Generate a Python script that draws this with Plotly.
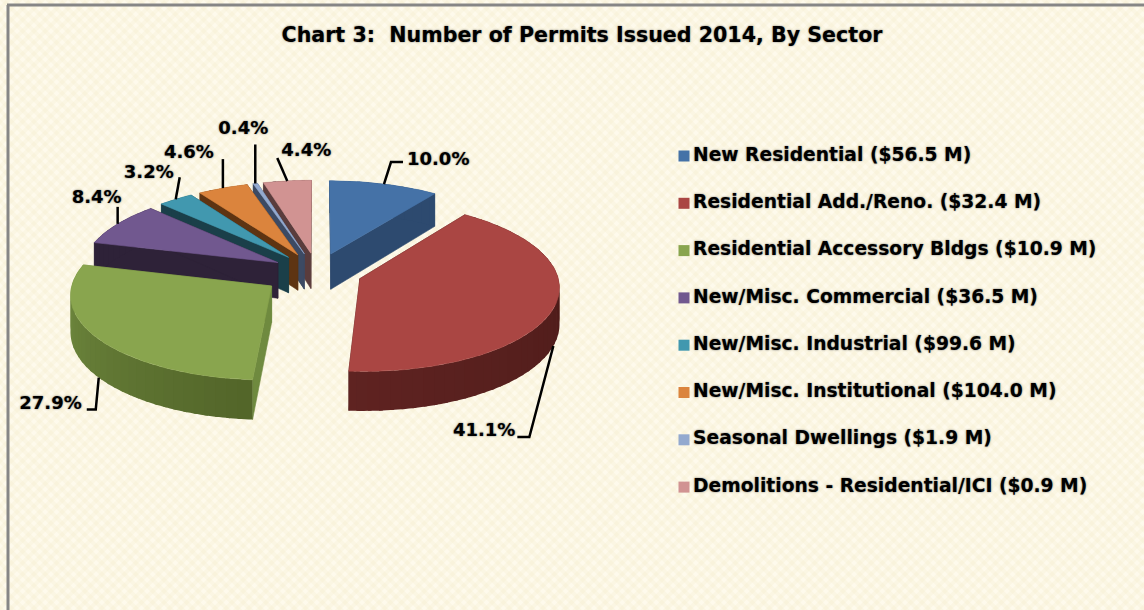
import math
import urllib.parse
import plotly.graph_objects as go

TITLE = "Chart 3:\u00a0\u00a0Number of Permits Issued 2014, By Sector"
CATEGORIES = [
    "New Residential ($56.5 M)",
    "Residential Add./Reno. ($32.4 M)",
    "Residential Accessory Bldgs ($10.9 M)",
    "New/Misc. Commercial ($36.5 M)",
    "New/Misc. Industrial ($99.6 M)",
    "New/Misc. Institutional ($104.0 M)",
    "Seasonal Dwellings ($1.9 M)",
    "Demolitions - Residential/ICI ($0.9 M)",
]
SHARES = [10.0, 41.1, 27.9, 8.4, 3.2, 4.6, 0.4, 4.4]

TOP_COLORS = ["#4572A7", "#AA4643", "#89A54E", "#71588F", "#4198AF", "#DB843D", "#93A9CF", "#D19392"]
CUT_COLORS = ["#2D4A6F", "#4A1A18", "#6F8A3F", "#2E2238", "#1A3F49", "#5E3412", "#3C4A63", "#5A3C3C"]
RIM_FROM = ["#2D4A6F", "#451816", "#536529", "#2E2238", "#1A3F49", "#5E3412", "#3C4A63", "#5A3C3C"]
RIM_TO = ["#2D4A6F", "#5F2321", "#738F42", "#2E2238", "#1A3F49", "#5E3412", "#3C4A63", "#5A3C3C"]
PULLS = [0.23, 0.23, 0.28, 0.23, 0.23, 0.23, 0.23, 0.23]

# projection of the tilted, exploded pie onto the page
CX, CY, RX, RY, PERSP, DEPTH = 317, 272, 197, 84, 0.09, 36

# label offsets: (knee dx, knee dy, end dx, end dy, text dx, text dy) from the rim anchor
LEADERS = [
    (7, -22, 19, -22, 23, -24),
    (-24, 91, -36, 91, -38, 85),
    (-3, 32, -12, 32, -17, 27),
    (0, -17, 0, -17, 4, -25),
    (4, -22, 4, -22, -2, -26),
    (0, -29, 0, -29, -9, -35),
    (0, -39, 0, -39, 13, -54),
    (-10, -23, -10, -23, -6, -29),
]


def project(u, v, drop=0.0):
    s = 1 + PERSP * v
    return CX + RX * u * s, CY + RY * v * s + drop * DEPTH * s


def lerp_color(a, b, t):
    ca = [int(a[i:i + 2], 16) for i in (1, 3, 5)]
    cb = [int(b[i:i + 2], 16) for i in (1, 3, 5)]
    return "#%02x%02x%02x" % tuple(round(p + (q - p) * t) for p, q in zip(ca, cb))


polys = []
anchors = []
cum = 0.0
for i, share in enumerate(SHARES):
    t0 = cum / 100 * 2 * math.pi
    cum += share
    t1 = cum / 100 * 2 * math.pi
    mid = (t0 + t1) / 2
    ox, oy = PULLS[i] * math.sin(mid), -PULLS[i] * math.cos(mid)

    def rim(t):
        return ox + math.sin(t), oy - math.cos(t)

    n = max(2, int(math.degrees(t1 - t0)))
    ts = [t0 + (t1 - t0) * k / n for k in range(n + 1)]
    key = oy + 0.55 * (-math.cos(mid))
    for t in (t0, t1):
        pts = [(ox, oy, 0), (*rim(t), 0), (*rim(t), 1), (ox, oy, 1)]
        xy = [project(a, b, c) for a, b, c in pts]
        polys.append((key, 0 if -math.cos(t) < 0 else 1, [p[0] for p in xy], [p[1] for p in xy], CUT_COLORS[i], 0.6))
    step = 3
    # painted from the far end back towards the start, each strip overlapping the previous one
    for k in reversed(range(0, n, step)):
        seg = ts[k:]
        seg = seg[:step + 2]
        upper = [project(*rim(t), 0) for t in seg]
        lower = [project(*rim(t), 1) for t in reversed(seg)]
        xy = upper + lower
        frac = (k + step / 2) / n
        polys.append((key, 2 + (n - k) * 1e-3, [p[0] for p in xy], [p[1] for p in xy],
                      lerp_color(RIM_FROM[i], RIM_TO[i], min(frac, 1)), 0))
    xy = [project(ox, oy)] + [project(*rim(t)) for t in ts]
    polys.append((key, 3, [p[0] for p in xy], [p[1] for p in xy], TOP_COLORS[i], 0.6))
    u_mid, v_mid = rim(mid)
    anchors.append(project(u_mid, v_mid, 1.0 if v_mid > 0.3 else 0.0))

polys.sort(key=lambda p: (p[0], p[1]))

fig = go.Figure()
for _, _, xs, ys, color, lw in polys:
    fig.add_trace(go.Scatter(x=xs + xs[:1], y=ys + ys[:1], mode="lines" if lw else "none", fill="toself",
                             fillcolor=color, line=dict(color=color, width=lw), hoverinfo="skip", showlegend=False))

SHADOW = "0px 0px 2px rgba(60,60,60,0.75)"
FONT = "DejaVu Sans"

lx, ly, tx, ty, labels = [], [], [], [], []
for (ax, ay), off, share in zip(anchors, LEADERS, SHARES):
    lx += [ax, ax + off[0], ax + off[2], None]
    ly += [ay, ay + off[1], ay + off[3], None]
    tx.append(ax + off[4])
    ty.append(ay + off[5])
    labels.append(f"{share:.1f}%")
fig.add_trace(go.Scatter(x=lx, y=ly, mode="lines", line=dict(color="#000000", width=2.5),
                         hoverinfo="skip", showlegend=False))
positions = ["middle right", "middle left", "middle left", "middle left",
             "middle left", "middle left", "middle left", "middle right"]
fig.add_trace(go.Scatter(x=tx, y=ty, mode="text", text=labels, textposition=positions,
                         textfont=dict(family=FONT, size=18, color="#000000", weight="bold", shadow=SHADOW),
                         hoverinfo="skip", showlegend=False))

key_y = [156 + 47.3 * i for i in range(len(CATEGORIES))]
fig.add_trace(go.Scatter(x=[684] * len(CATEGORIES), y=key_y, mode="markers",
                         marker=dict(symbol="square", size=11, color=TOP_COLORS),
                         hoverinfo="skip", showlegend=False))
fig.add_trace(go.Scatter(x=[693] * len(CATEGORIES), y=key_y, mode="text", text=CATEGORIES, textposition="middle right",
                         textfont=dict(family=FONT, size=18.7, color="#000000", weight="bold", shadow=SHADOW),
                         hoverinfo="skip", showlegend=False))

svg = ('<svg xmlns="http://www.w3.org/2000/svg" width="1144" height="610">'
       '<defs><pattern id="p" width="8" height="8" patternUnits="userSpaceOnUse" patternTransform="rotate(45)">'
       '<rect width="8" height="8" fill="#FBF6E3"/><rect width="4" height="4" fill="#FEFAEC"/>'
       '<rect x="4" y="4" width="4" height="4" fill="#F9F3DC"/></pattern></defs>'
       '<rect width="1144" height="610" fill="url(#p)"/></svg>')

fig.update_layout(
    width=1144, height=610, margin=dict(l=0, r=0, t=0, b=0), paper_bgcolor="#FBF6E3", plot_bgcolor="rgba(0,0,0,0)",
    showlegend=False,
    title=dict(text=TITLE, x=582 / 1144, y=1 - 35 / 610, xanchor="center", yanchor="middle",
               font=dict(family=FONT, size=20.6, color="#000000", weight="bold", shadow=SHADOW)),
    xaxis=dict(range=[0, 1144], visible=False, fixedrange=True),
    yaxis=dict(range=[610, 0], visible=False, fixedrange=True),
    images=[dict(source="data:image/svg+xml," + urllib.parse.quote(svg), xref="paper", yref="paper", x=0, y=1,
                 sizex=1, sizey=1, sizing="stretch", layer="below", xanchor="left", yanchor="top")],
    shapes=[dict(type="line", x0=8, x1=8, y0=5, y1=610, line=dict(color="#868686", width=3)),
            dict(type="line", x0=7, x1=1144, y0=5, y1=5, line=dict(color="#868686", width=3))],
)
fig.write_html("out.html", config={"displayModeBar": False},
               post_script="document.body.style.margin='0';document.body.style.overflow='hidden';")
